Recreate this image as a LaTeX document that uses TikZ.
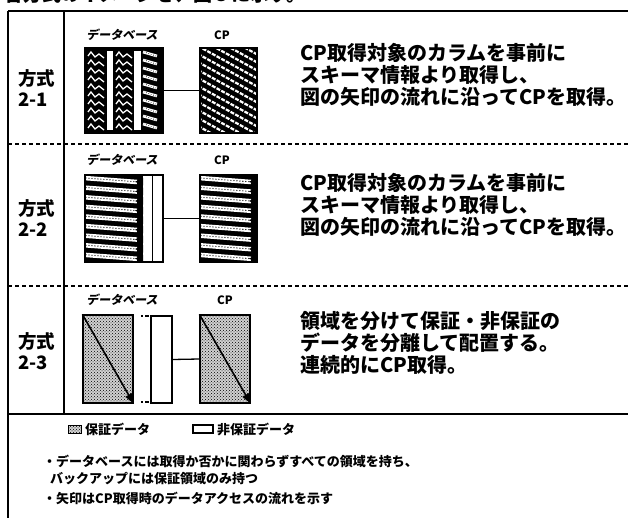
\documentclass[tikz,border=0pt]{standalone}
\usepackage{fontspec}
\newfontfamily\jp{Noto Sans CJK JP}
\newfontfamily\jpsl[FakeSlant=0.2]{Noto Sans CJK JP}
\usetikzlibrary{patterns,arrows.meta}
\begin{document}
\begin{tikzpicture}[x=1pt,y=-1pt,
  frame/.style={line width=1.4pt},
  sep/.style={line width=1.1pt, dash pattern=on 4pt off 3pt},
  boxn/.style={draw, line width=1.2pt, inner sep=0pt, minimum width=#1},
  conn/.style={line width=1.3pt},
  lbl/.style={font=\jpsl\bfseries\fontsize{12}{12}\selectfont, inner sep=0pt},
  cpl/.style={font=\jp\bfseries\fontsize{11.5}{11.5}\selectfont, inner sep=0pt},
  side/.style={font=\jp\bfseries\fontsize{18.5}{21}\selectfont, align=left, anchor=west, inner sep=0pt},
  desc/.style={font=\jp\bfseries\fontsize{20}{22}\selectfont, align=left, anchor=west, inner sep=0pt},
  note/.style={font=\jp\bfseries\fontsize{13}{13}\selectfont, anchor=west, inner sep=0pt},
  dotfill/.style={pattern=crosshatch dots, pattern color=black},
  graybg/.style={fill=black!18},
  band/.style={white, line width=4.5pt},
  banddots/.style={black, line width=1.3pt, line cap=round, dash pattern=on 0pt off 3pt},
]
\useasboundingbox (0,0) rectangle (628,518);

% clipped caption line at the very top
\node[anchor=base west, font=\jp\bfseries\fontsize{19}{19}\selectfont, inner sep=0pt] (cap) at (4,1.5) {合方式のイメージを、図５に示す。};

% frame
\draw[frame] (8,11) -- (628,11);
\draw[frame] (8,11) -- (8,518);
\draw[frame] (64,11) -- (64,414);
\draw[sep] (8,144) -- (628,144);
\draw[sep] (8,286) -- (628,286);
\draw[frame] (8,414) -- (628,414);

% ---------------- section 2-1 ----------------
\node[side] (m1) at (18,88) {方式\\2-1};
\node[lbl] (db1l) at (122,35) {データベース};
\node[cpl] (cp1l) at (222,35) {CP};
\begin{scope}
  \clip (85,48) rectangle (163,133);
  \fill (85,48) rectangle (163,133);
  \fill[white] (107,51) rectangle (113,130);
  \fill[white] (134,51) rectangle (141,130);
  \foreach \cx in {86,114}
    \foreach \yy in {52,60,...,124}
      \draw[white, line width=1.3pt] (\cx+2,\yy+4) -- (\cx+5,\yy) -- (\cx+9,\yy+5) -- (\cx+13,\yy+2) -- (\cx+18,\yy+6);
  \foreach \yy in {52,60,...,124} {
    \draw[white, line width=2.8pt] (143,\yy) -- (157,\yy+4);
    \draw[black, line width=0.9pt, line cap=round, dash pattern=on 0pt off 2.5pt] (144,\yy) -- (156,\yy+4);
  }
\end{scope}
\begin{scope}
  \clip (200,48) rectangle (257,133);
  \fill (200,48) rectangle (257,133);
  \foreach \yy in {14,22,...,134}
    \draw[white, line width=2.2pt, dash pattern=on 4pt off 1.3pt] (198,\yy) -- (260,\yy+34);
\end{scope}
\node[boxn=78pt, minimum height=85pt] (db1) at (124,90.5) {};
\node[boxn=57pt, minimum height=85pt] (cp1) at (228.5,90.5) {};
\draw[conn] (db1.east) -- (cp1.west);
\node[desc] (t1) at (300,75) {CP取得対象のカラムを事前に\\スキーマ情報より取得し、\\図の矢印の流れに沿ってCPを取得。};

% ---------------- section 2-2 ----------------
\node[side] (m2) at (18,218) {方式\\2-2};
\node[lbl] (db2l) at (122,160) {データベース};
\node[cpl] (cp2l) at (222,160) {CP};
\begin{scope}
  \clip (85,175) rectangle (143,262);
  \fill (85,175) rectangle (143,262);
  \foreach \i in {0,...,8} {
    \pgfmathsetmacro\yy{178+9.6*\i}
    \draw[band] (84,\yy) -- (137,\yy+4);
    \draw[banddots] (86,\yy) -- (136,\yy+3.8);
    \fill (135,\yy+3.8) -- (143,\yy) -- (143,\yy+7.5) -- cycle;
  }
\end{scope}
\draw[line width=1pt] (152.5,175) -- (152.5,262);
\begin{scope}
  \clip (200,175) rectangle (257,262);
  \fill (200,175) rectangle (257,262);
  \foreach \i in {0,...,8} {
    \pgfmathsetmacro\yy{178+9.6*\i}
    \draw[band] (199,\yy) -- (251,\yy+4);
    \draw[banddots] (201,\yy) -- (250,\yy+3.8);
    \fill (249,\yy+3.8) -- (257,\yy) -- (257,\yy+7.5) -- cycle;
  }
\end{scope}
\node[boxn=78pt, minimum height=87pt] (db2) at (124,218.5) {};
\node[boxn=57pt, minimum height=87pt] (cp2) at (228.5,218.5) {};
\draw[conn] (db2.east) -- (cp2.west);
\node[desc] (t2) at (300,205) {CP取得対象のカラムを事前に\\スキーマ情報より取得し、\\図の矢印の流れに沿ってCPを取得。};

% ---------------- section 2-3 ----------------
\node[side] (m3) at (18,351) {方式\\2-3};
\node[lbl] (db3l) at (122,300) {データベース};
\node[cpl] (cp3l) at (225,300) {CP};
\fill[graybg] (83,315) rectangle (133,403);
\fill[graybg] (200,315) rectangle (250,403);
\fill[dotfill] (83,315) rectangle (133,403);
\fill[dotfill] (200,315) rectangle (250,403);
\node[boxn=50pt, minimum height=88pt] (db3) at (108,359) {};
\node[boxn=21pt, minimum height=87pt] (nz3) at (161.5,359.5) {};
\node[boxn=50pt, minimum height=88pt] (cp3) at (225,359) {};
\draw[line width=1.6pt, -{Triangle[width=7pt,length=10pt]}] (db3.north west) -- (db3.south east);
\draw[line width=1.6pt, -{Triangle[width=7pt,length=10pt]}] (cp3.north west) -- (cp3.south east);
\coordinate (g1) at (141,316);
\coordinate (g2) at (149,316);
\coordinate (g3) at (141,402);
\coordinate (g4) at (149,402);
\draw[line width=1.3pt, dash pattern=on 1.5pt off 2.5pt on 4pt off 9pt] (g1) -- (g2);
\draw[line width=1.3pt, dash pattern=on 1.5pt off 2.5pt on 4pt off 9pt] (g3) -- (g4);
\draw[conn] (nz3.east) -- (cp3.west);
\node[desc] (t3) at (300,343) {領域を分けて保証・非保証の\\データを分離して配置する。\\連続的にCP取得。};

% ---------------- legend / notes ----------------
\fill[graybg] (68,425) rectangle (81,433);
\fill[dotfill] (68,425) rectangle (81,433);
\node[draw, line width=0.9pt, inner sep=0pt, minimum width=13pt, minimum height=8pt] (lg1) at (74.5,429) {};
\node[note] (lg1t) at (85,429) {保証データ};
\node[draw, line width=1.4pt, inner sep=0pt, minimum width=20pt, minimum height=8pt] (lg2) at (203,429) {};
\node[note] (lg2t) at (217,429) {非保証データ};
\node[note] (n1) at (43,461) {・データベースには取得か否かに関わらずすべての領域を持ち、};
\node[note] (n2) at (50,479) {バックアップには保証領域のみ持つ};
\node[note] (n3) at (43,498) {・矢印はCP取得時のデータアクセスの流れを示す};
\end{tikzpicture}
\end{document}
